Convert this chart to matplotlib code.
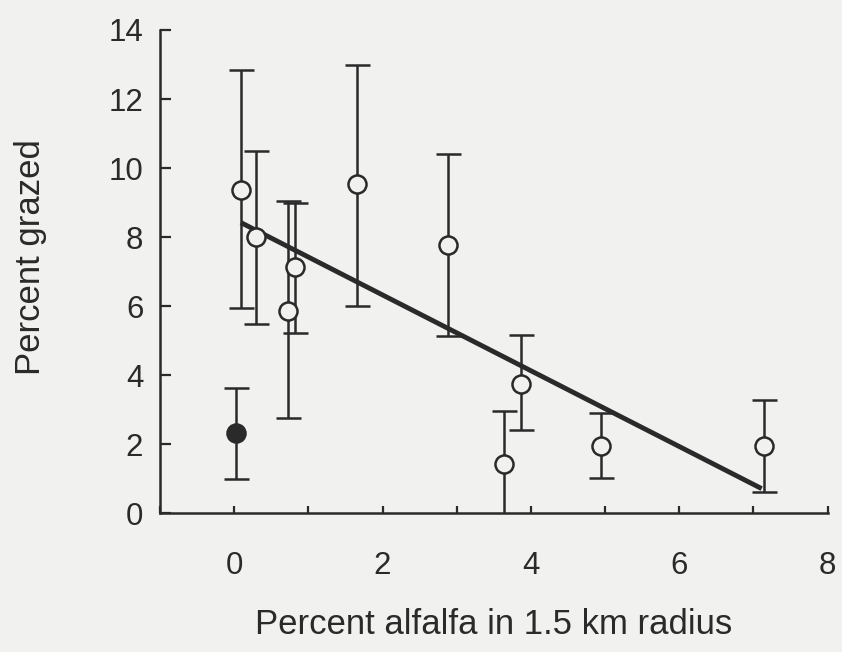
import matplotlib
matplotlib.use("Agg")
import matplotlib.pyplot as plt

# open symbols: sites
x_open = [0.09, 0.29, 0.73, 0.82, 1.65, 2.88, 3.64, 3.87, 4.94, 7.14]
y_open = [9.35, 8.0, 5.85, 7.12, 9.53, 7.77, 1.42, 3.75, 1.94, 1.94]
y_open_hi = [12.85, 10.5, 9.05, 9.0, 13.0, 10.42, 2.95, 5.16, 2.91, 3.29]
y_open_lo = [5.93, 5.48, 2.77, 5.22, 6.01, 5.14, -0.05, 2.40, 1.03, 0.6]

# filled symbol
x_fill = [0.02]
y_fill = [2.32]
y_fill_hi = [3.63]
y_fill_lo = [0.98]

# regression line end points
line_x = [0.09, 7.11]
line_y = [8.42, 0.71]

ink = "#2a2a2a"
bg = "#f1f1ef"

plt.rcParams["font.family"] = ["Liberation Sans", "DejaVu Sans"]

fig = plt.figure(figsize=(8.42, 6.52), dpi=100, facecolor=bg)
ax = fig.add_axes([0.19, 0.213, 0.793, 0.741], facecolor=bg)

err_open = [[y - lo for y, lo in zip(y_open, y_open_lo)],
            [hi - y for y, hi in zip(y_open, y_open_hi)]]
err_fill = [[y - lo for y, lo in zip(y_fill, y_fill_lo)],
            [hi - y for y, hi in zip(y_fill, y_fill_hi)]]

ax.errorbar(x_open, y_open, yerr=err_open, fmt="none", ecolor=ink,
            elinewidth=1.8, capsize=9, capthick=1.8, zorder=2)
ax.errorbar(x_fill, y_fill, yerr=err_fill, fmt="none", ecolor=ink,
            elinewidth=1.8, capsize=9, capthick=1.8, zorder=2)

ax.plot(line_x, line_y, color=ink, linewidth=3.5, solid_capstyle="butt", zorder=3)

ax.plot(x_open, y_open, "o", ms=13, mfc=bg, mec=ink, mew=1.8, zorder=4)
ax.plot(x_fill, y_fill, "o", ms=13, mfc=ink, mec=ink, mew=1.8, zorder=4)

ax.set_xlim(-1, 8)
ax.set_ylim(0, 14)
ax.set_xticks(range(-1, 9))
ax.set_xticklabels(["" if v % 2 else str(v) for v in range(-1, 9)])
ax.set_yticks(range(0, 15, 2))

for s in ["top", "right"]:
    ax.spines[s].set_visible(False)
for s in ["left", "bottom"]:
    ax.spines[s].set_color(ink)
    ax.spines[s].set_linewidth(1.8)

ax.tick_params(axis="both", direction="in", width=1.6, color=ink,
               labelsize=22.5, labelcolor=ink)
ax.tick_params(axis="x", length=5, pad=27)
ax.tick_params(axis="y", length=8, pad=12)

ax.set_xlabel("Percent alfalfa in 1.5 km radius", fontsize=25, color=ink, labelpad=20)
ax.set_ylabel("Percent grazed", fontsize=25, color=ink, labelpad=44)
ax.yaxis.label.set_y(0.53)

fig.savefig("out.png", dpi=100, facecolor=bg)
